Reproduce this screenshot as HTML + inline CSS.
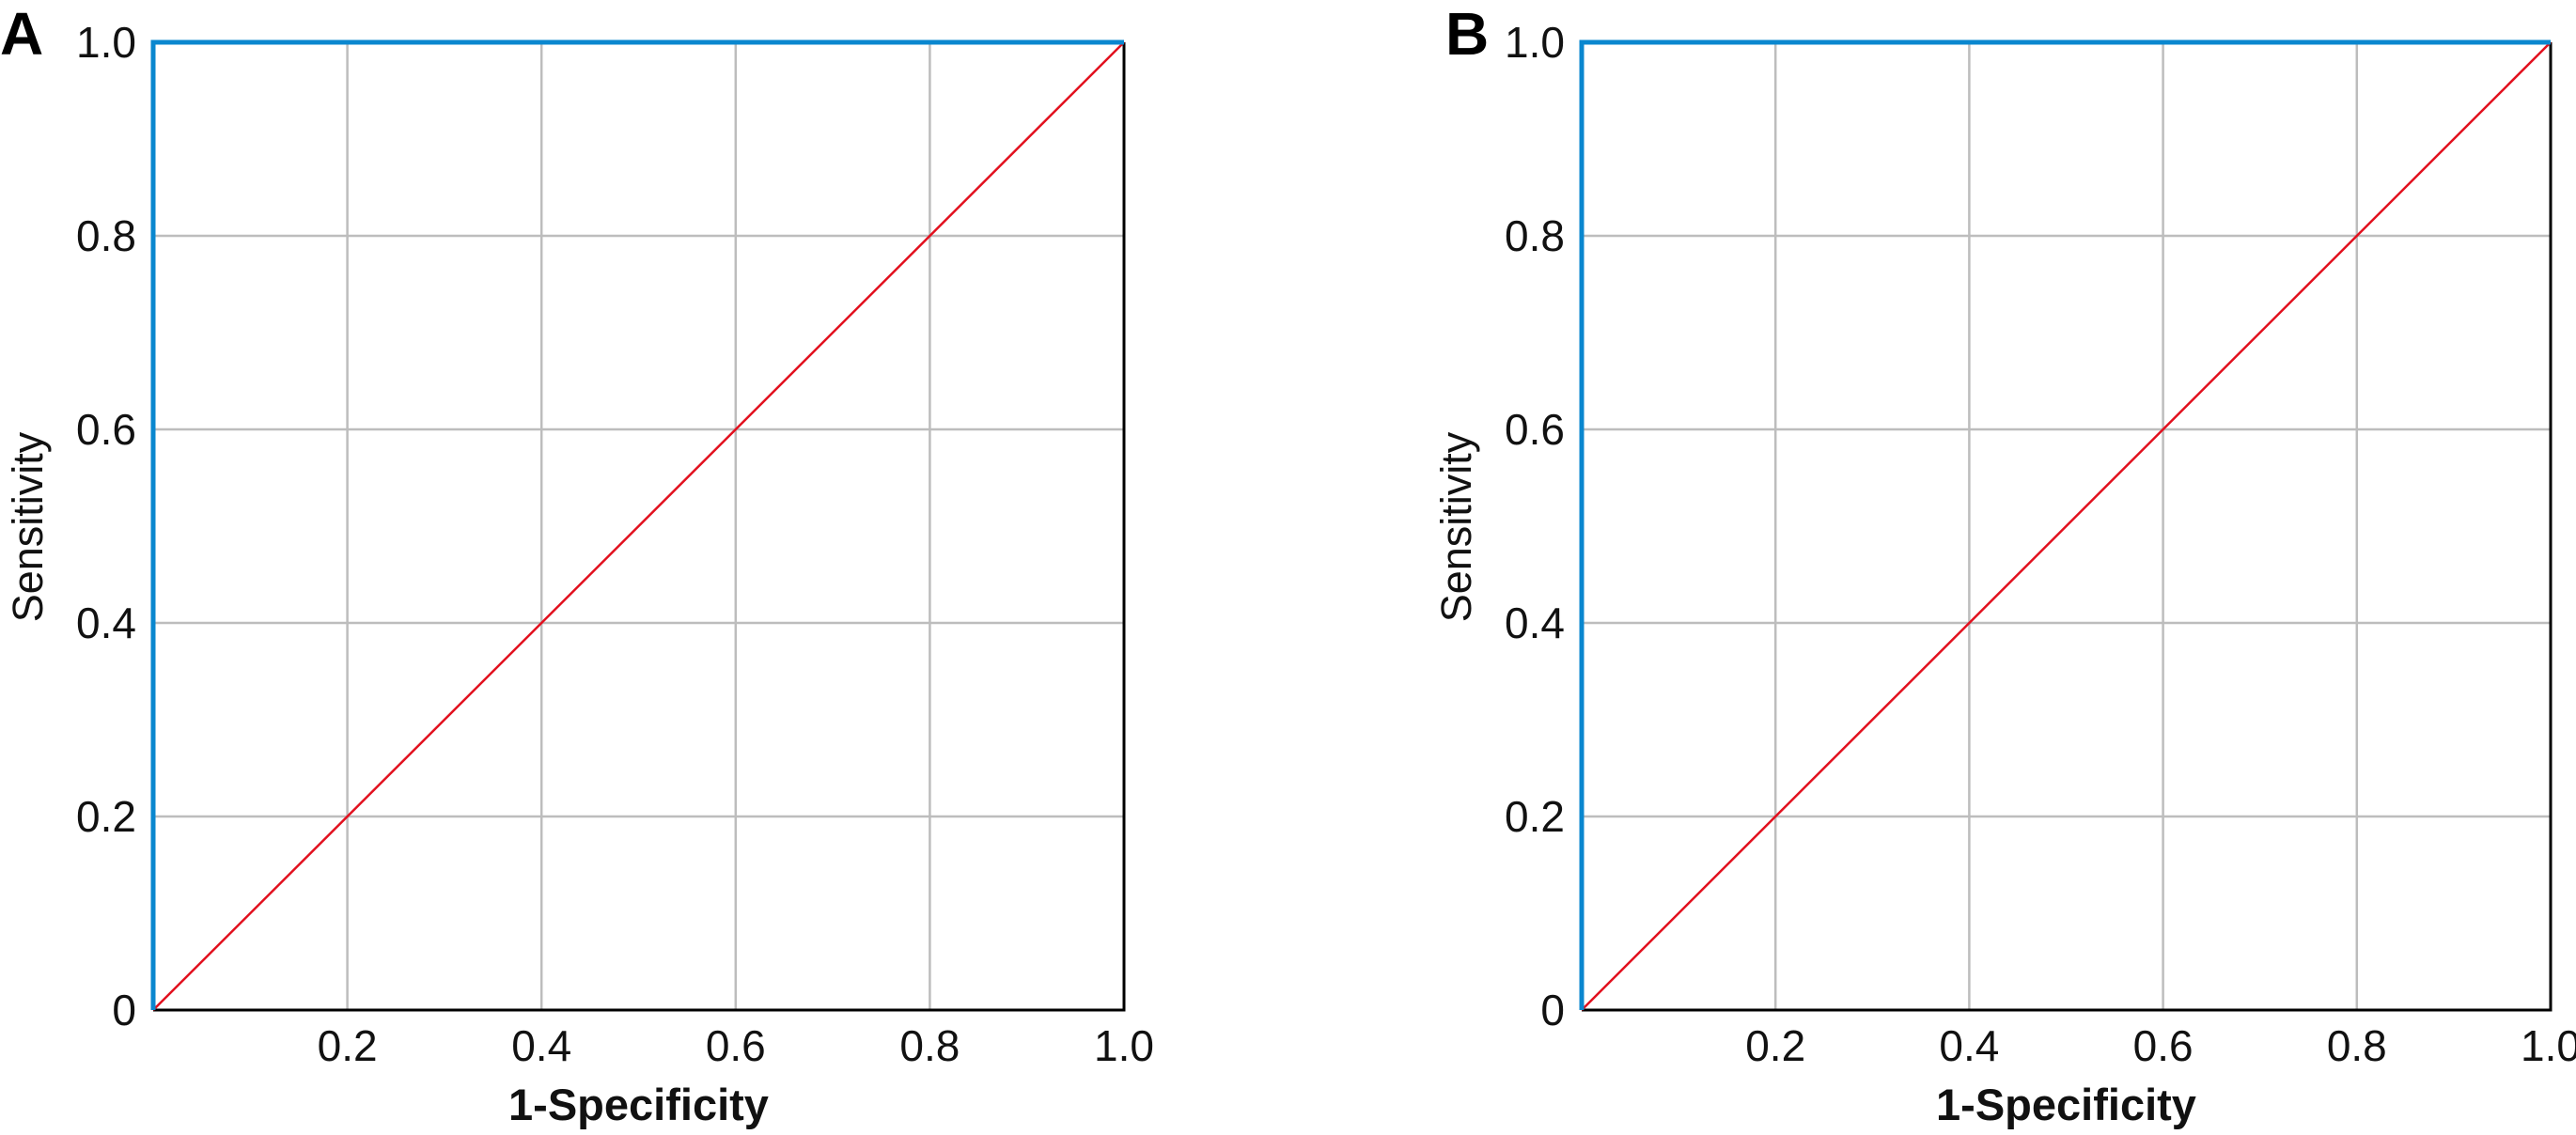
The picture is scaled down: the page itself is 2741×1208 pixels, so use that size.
<!DOCTYPE html>
<html><head><meta charset="utf-8"><style>
html,body{margin:0;padding:0;background:#fff;}
svg{display:block;font-family:"Liberation Sans",sans-serif;}
</style></head><body>
<svg id="chart" width="2741" height="1208" viewBox="0 0 2741 1208" xmlns="http://www.w3.org/2000/svg"></svg>
<script>
const ticks = [0, 0.2, 0.4, 0.6, 0.8, 1.0];
const yTickLabels = ["0", "0.2", "0.4", "0.6", "0.8", "1.0"];
const xTickLabels = ["", "0.2", "0.4", "0.6", "0.8", "1.0"];
const rocA_x = [0, 0, 1];
const rocA_y = [0, 1, 1];
const refA_x = [0, 1];
const refA_y = [0, 1];
const rocB_x = [0, 0, 1];
const rocB_y = [0, 1, 1];
const refB_x = [0, 1];
const refB_y = [0, 1];
const panels = [
  {id:"a", label:"A", left:163, right:1196, rocX:rocA_x, rocY:rocA_y, refX:refA_x, refY:refA_y, labelX:0},
  {id:"b", label:"B", left:1683, right:2714, rocX:rocB_x, rocY:rocB_y, refX:refB_x, refY:refB_y, labelX:1538}
];
const top0 = 45, bottom0 = 1075;
const NS = "http://www.w3.org/2000/svg";
const svg = document.getElementById("chart");
function el(tag, attrs, parent, text){
  const e = document.createElementNS(NS, tag);
  for (const k in attrs) e.setAttribute(k, attrs[k]);
  if (text !== undefined) e.textContent = text;
  (parent || svg).appendChild(e);
  return e;
}
panels.forEach(p => {
  const g = el("g", {});
  
  
  const sx = v => p.left + v * (p.right - p.left);
  const sy = v => bottom0 - v * (bottom0 - top0);
  ticks.forEach((t, i) => {
    if (t > 0 && t < 1) {
      const gx = el("line", {x1:sx(t), x2:sx(t), y1:top0, y2:bottom0, stroke:"#bdbdbd", "stroke-width":2.5}, g);
      
      
      const gy = el("line", {x1:p.left, x2:p.right, y1:sy(t), y2:sy(t), stroke:"#bdbdbd", "stroke-width":2.5}, g);
      
      
    }
    const yl = el("text", {x:p.left - 18, y:sy(t) + 16, "text-anchor":"end", "font-size":46, fill:"#111"}, g, yTickLabels[i]);
    
    
    if (xTickLabels[i]) {
      const xl = el("text", {x:sx(t), y:1129, "text-anchor":"middle", "font-size":46, fill:"#111"}, g, xTickLabels[i]);
      
      
    }
  });
  const ax = el("path", {d:`M${p.left} ${bottom0}H${p.right}V${top0}`, fill:"none", stroke:"#000", "stroke-width":3}, g);
  
  
  const ref = el("polyline", {points:p.refX.map((x,i)=>sx(x)+","+sy(p.refY[i])).join(" "), fill:"none", stroke:"#e2101e", "stroke-width":2.5}, g);
  
  
  const roc = el("polyline", {points:p.rocX.map((x,i)=>sx(x)+","+sy(p.rocY[i])).join(" "), fill:"none", stroke:"#0a87cf", "stroke-width":5}, g);
  
  
  const xt = el("text", {x:(p.left+p.right)/2, y:1192, "text-anchor":"middle", "font-size":47, "font-weight":"bold", fill:"#111"}, g, "1-Specificity");
  
  
  const ytx = p.left - 118;
  const yt = el("text", {x:ytx, y:561, "text-anchor":"middle", "font-size":45, fill:"#111", transform:`rotate(-90 ${ytx} 561)`}, g, "Sensitivity");
  
  
  const pl = el("text", {x:p.labelX, y:58, "font-size":64, "font-weight":"bold", fill:"#000"}, g, p.label);
  
  
});
</script>
</body></html>
